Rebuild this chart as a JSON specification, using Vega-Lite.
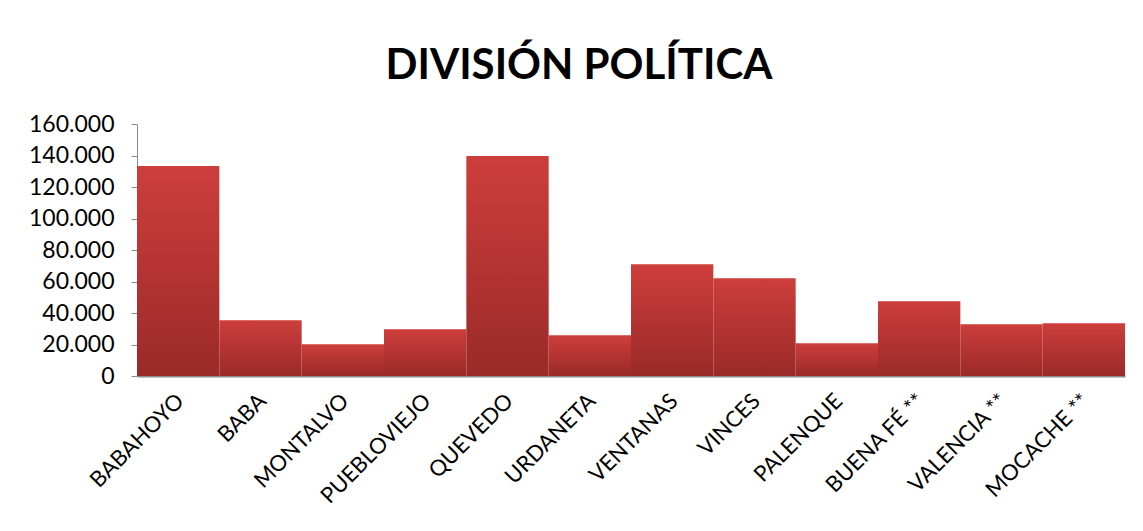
{
  "$schema": "https://vega.github.io/schema/vega-lite/v6.json",
  "autosize": "none",
  "width": 988,
  "height": 252,
  "padding": {"left": 137, "top": 124, "right": 18, "bottom": 155},
  "background": "white",
  "config": {
    "locale": {"number": {"decimal": ",", "thousands": ".", "grouping": [3], "currency": ["$", ""]}},
    "view": {"stroke": null},
    "font": "Lato"
  },
  "title": {
    "text": "DIVISIÓN POLÍTICA",
    "font": "Lato",
    "fontSize": 42,
    "fontWeight": "bold",
    "color": "#000000",
    "anchor": "middle",
    "frame": "group",
    "dx": -52,
    "offset": 25
  },
  "data": {
    "values": [
      {"canton": "BABAHOYO", "poblacion": 133300},
      {"canton": "BABA", "poblacion": 35400},
      {"canton": "MONTALVO", "poblacion": 20200},
      {"canton": "PUEBLOVIEJO", "poblacion": 29700},
      {"canton": "QUEVEDO", "poblacion": 139700},
      {"canton": "URDANETA", "poblacion": 25900},
      {"canton": "VENTANAS", "poblacion": 71000},
      {"canton": "VINCES", "poblacion": 62100},
      {"canton": "PALENQUE", "poblacion": 20800},
      {"canton": "BUENA FÉ **", "poblacion": 47500},
      {"canton": "VALENCIA **", "poblacion": 32900},
      {"canton": "MOCACHE **", "poblacion": 33500}
    ]
  },
  "mark": {
    "type": "bar",
    "color": {
      "gradient": "linear",
      "x1": 0, "y1": 0, "x2": 0, "y2": 1,
      "stops": [
        {"offset": 0, "color": "#cd3e3b"},
        {"offset": 1, "color": "#9a2a28"}
      ]
    }
  },
  "encoding": {
    "x": {
      "field": "canton",
      "type": "nominal",
      "sort": null,
      "scale": {"paddingInner": 0, "paddingOuter": 0},
      "axis": {
        "title": null,
        "labelAngle": -45,
        "labelFontSize": 22,
        "labelColor": "#000000",
        "ticks": false,
        "domainColor": "#8a8a8a",
        "domainWidth": 2,
        "labelPadding": 14,
        "labelOffset": -5
      }
    },
    "y": {
      "field": "poblacion",
      "type": "quantitative",
      "scale": {"domain": [0, 160000]},
      "axis": {
        "title": null,
        "values": [0, 20000, 40000, 60000, 80000, 100000, 120000, 140000, 160000],
        "format": ",d",
        "grid": false,
        "labelFontSize": 23,
        "labelColor": "#000000",
        "domainColor": "#8a8a8a",
        "tickColor": "#8a8a8a",
        "tickSize": 6,
        "labelPadding": 17
      }
    }
  }
}
